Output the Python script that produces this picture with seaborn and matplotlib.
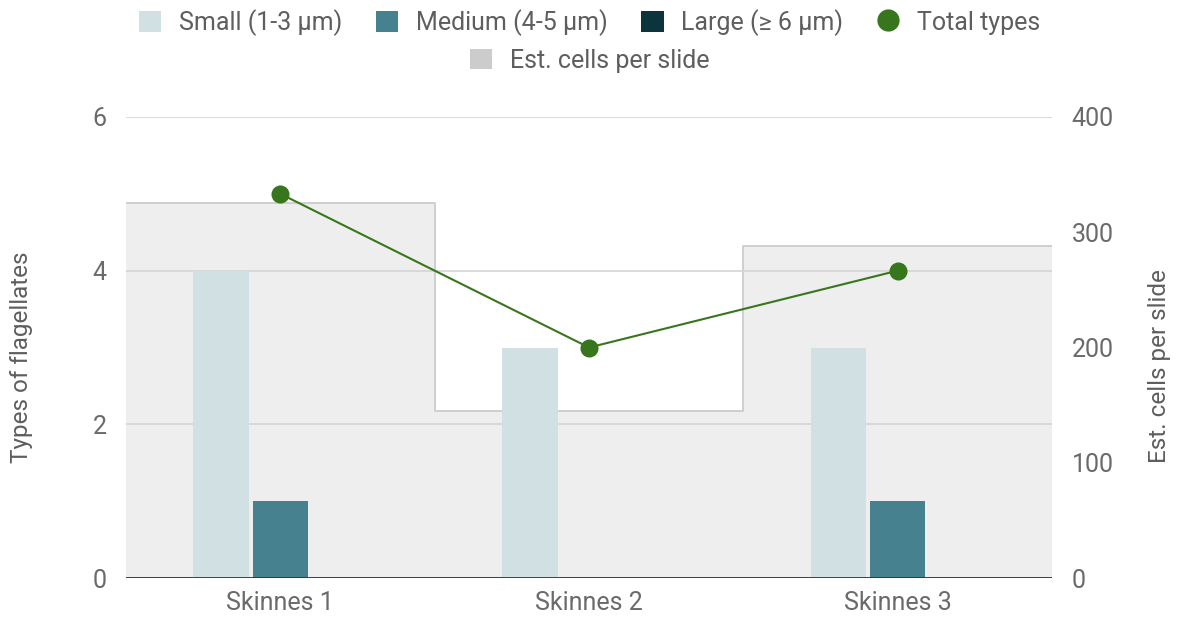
import matplotlib
matplotlib.use("Agg")
import matplotlib.pyplot as plt
import numpy as np
import pandas as pd
import seaborn as sns
from matplotlib.patches import Patch
from matplotlib.lines import Line2D

# Flagellate observations per sampling site
sites = ["Skinnes 1", "Skinnes 2", "Skinnes 3"]
small = [4, 3, 3]
medium = [1, 0, 1]
large = [0, 0, 0]
total_types = [5, 3, 4]
cells_per_slide = [325, 145, 288]

size_labels = ["Small (1-3 µm)", "Medium (4-5 µm)", "Large (≥ 6 µm)"]
size_colors = ["#d0e0e3", "#45818e", "#0c343d"]
total_color = "#38761d"
area_fill = "#eeeeee"
area_edge = "#cccccc"
text_color = "#6a6a6a"
title_color = "#5e5e5e"

sns.set_theme(style="white")
plt.rcParams["font.family"] = ["Roboto", "DejaVu Sans"]

fig = plt.figure(figsize=(11.79, 6.25), dpi=100)
ax = fig.add_axes([0.1069, 0.0752, 0.7854, 0.7376])
ax2 = ax.twinx()
ax.set_zorder(ax2.get_zorder() + 1)
ax.patch.set_visible(False)

# Stepped area: estimated cells per slide (right scale)
edges = np.arange(len(sites) + 1) - 0.5
step_vals = cells_per_slide + [cells_per_slide[-1]]
ax2.fill_between(edges, step_vals, step="post", color=area_fill, lw=0)
ax2.step(edges, step_vals, where="post", color=area_edge, lw=1.3)
ax2.set_ylim(0, 400)
ax2.set_yticks([0, 100, 200, 300, 400])

# Grouped bars by cell size (left scale)
bars = pd.DataFrame({
    "site": sites * 3,
    "size": [lab for lab in size_labels for _ in sites],
    "count": small + medium + large,
})
sns.barplot(data=bars, x="site", y="count", hue="size", hue_order=size_labels,
            palette=size_colors, saturation=1, width=0.575, gap=0.06,
            linewidth=0, ax=ax, legend=False, zorder=2)

# Total types line
sns.pointplot(x=sites, y=total_types, color=total_color, ax=ax,
              markersize=13, markeredgewidth=0, linewidth=1.5, zorder=4)

ax.set_xlim(-0.5, len(sites) - 0.5)
ax.set_ylim(0, 6)
ax.set_yticks([0, 2, 4, 6])
ax.set_axisbelow(True)
ax.grid(axis="y", color="#d4d4d4", lw=1.2)
ax.grid(axis="x", visible=False)
ax2.grid(False)
ax.axhline(0, color="#333333", lw=2, zorder=3)

for a in (ax, ax2):
    for s in a.spines.values():
        s.set_visible(False)
    a.tick_params(length=0, labelsize=18, labelcolor=text_color, pad=14)
ax.tick_params(axis="x", pad=9)

ax.set_xlabel("")
ax.set_ylabel("Types of flagellates", fontsize=17.5, color=title_color, labelpad=43)
ax2.set_ylabel("Est. cells per slide", fontsize=17.5, color=title_color, labelpad=25)
ax.yaxis.label.set_y(0.478)
ax2.yaxis.label.set_y(0.46)

# Legends
legend_kw = dict(loc="center", frameon=False, fontsize=18, labelcolor=title_color,
                 handlelength=0.9, handleheight=0.9, handletextpad=0.7)
handles = [Patch(facecolor=c, edgecolor="none") for c in size_colors]
handles.append(Line2D([], [], color=total_color, marker="o", markersize=16,
                      markeredgewidth=0, linestyle="none"))
fig.legend(handles, size_labels + ["Total types"], ncol=4,
           bbox_to_anchor=(0.5, 0.964), columnspacing=1.35, **legend_kw)
fig.legend([Patch(facecolor="#cccccc", edgecolor="none")], ["Est. cells per slide"],
           bbox_to_anchor=(0.5, 0.903), **legend_kw)

fig.savefig("out.png", dpi=100)
